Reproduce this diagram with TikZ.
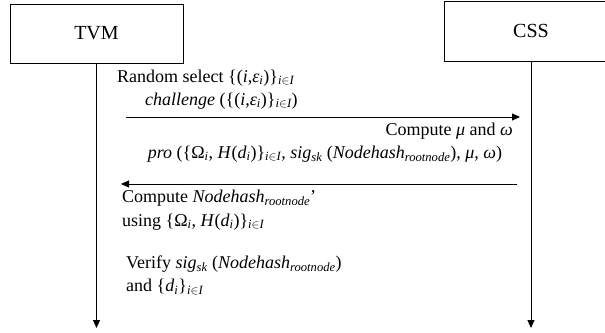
\documentclass[tikz,border=0pt]{standalone}
\usepackage{amsmath}
\usepackage{fontspec}
\setmainfont{Liberation Serif}[
  UprightFont={Liberation Serif},
  ItalicFont={Liberation Serif Italic},
  BoldFont={Liberation Serif Bold}]
\usetikzlibrary{arrows.meta}
% italic letters in formulas taken from the text font
\newcommand{\ti}[1]{\textit{#1}}
\begin{document}
\begin{tikzpicture}[x=1pt,y=-1pt,
  party/.style={draw,line width=1pt,minimum width=173pt,minimum height=59pt,
    inner sep=0pt,font=\fontsize{20}{24}\selectfont},
  lifeline/.style={line width=0.9pt,-{Triangle[length=8pt,width=7pt]}},
  msg/.style={line width=0.9pt,-{Triangle[length=8pt,width=7pt]}},
  lbl/.style={inner sep=0pt,font=\fontsize{18}{21}\selectfont}]
\useasboundingbox (0,0) rectangle (605,332);
\clip (0,0) rectangle (605,332);

% participants
\node[party] (tvm) at (96.5,33.5) {TVM};
\node[party,minimum width=174pt,minimum height=60pt] (css) at (531,31) {CSS};

% lifelines
\coordinate (tvmend) at (tvm.south |- 0,328);
\coordinate (cssend) at (css.south |- 0,328);
\draw[lifeline] (tvm.south) -- (tvmend);
\draw[lifeline] (css.south) -- (cssend);

% message end points
\coordinate (chA) at (126,117);
\coordinate (chB) at (520,117);
\coordinate (prA) at (517,184);
\coordinate (prB) at (121,184);
\draw[msg] (chA) -- (chB);
\draw[msg] (prA) -- (prB);

% labels
\node[lbl,anchor=west] (sel) at (117,78) {Random select \{(\ti{i},\ti{ε}$_{\ti{i}}$)\}$_{\ti{i}\in \ti{I}}$};
\node[lbl,anchor=west] (chl) at (145,101) {\ti{challenge} (\{(\ti{i},\ti{ε}$_{\ti{i}}$)\}$_{\ti{i}\in \ti{I}}$)};
\node[lbl,anchor=east] (cmp) at (513,131) {Compute \ti{μ} and \ti{ω}};
\node[lbl] (pro) at (325,154) {\ti{pro} (\{Ω$_{\ti{i}}$, \ti{H}(\ti{d}$_{\ti{i}}$)\}$_{\ti{i}\in \ti{I}}$, \ti{sig}$_{\ti{sk}}$ (\ti{Nodehash}$_{\ti{rootnode}}$), \ti{μ}, \ti{ω})};
\node[lbl,anchor=west] (cnh) at (122,198) {Compute \ti{Nodehash}$_{\ti{rootnode}}$'};
\node[lbl,anchor=west] (usg) at (122,222) {using \{Ω$_{\ti{i}}$, \ti{H}(\ti{d}$_{\ti{i}}$)\}$_{\ti{i}\in \ti{I}}$};
\node[lbl,anchor=west] (vfy) at (126,264) {Verify \ti{sig}$_{\ti{sk}}$ (\ti{Nodehash}$_{\ti{rootnode}}$)};
\node[lbl,anchor=west] (andd) at (126,287) {and \{\ti{d}$_{\ti{i}}$\}$_{\ti{i}\in \ti{I}}$};
\end{tikzpicture}
\end{document}
